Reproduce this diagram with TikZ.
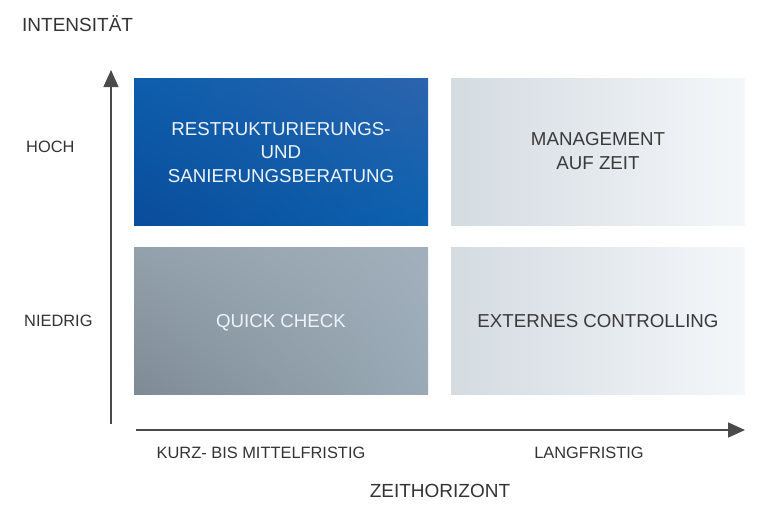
\documentclass[tikz,border=0pt]{standalone}
\usepackage{fontspec}
\setmainfont{Liberation Sans}
\usetikzlibrary{arrows.meta,shadings}
\definecolor{labeltext}{HTML}{333333}
\definecolor{boxdark}{HTML}{3A3A3A}
\definecolor{boxlight}{HTML}{EEF3F8}
\definecolor{axisgray}{HTML}{4A4A4A}
\definecolor{bUL}{RGB}{12,94,172}
\definecolor{bUR}{RGB}{45,99,173}
\definecolor{bLL}{RGB}{10,76,155}
\definecolor{bLR}{RGB}{10,98,175}
\definecolor{gUL}{RGB}{147,161,171}
\definecolor{gUR}{RGB}{161,176,188}
\definecolor{gLL}{RGB}{126,139,149}
\definecolor{gLR}{RGB}{153,170,182}
\definecolor{lL}{RGB}{212,219,225}
\definecolor{lR}{RGB}{244,247,250}
\newcommand{\lowerby}[2]{\raisebox{-#1}[\height][\depth]{#2}}
\begin{document}
\begin{tikzpicture}[x=1pt,y=-1pt,
  quad/.style={rectangle, inner sep=0pt, minimum width=294pt, minimum height=147pt, align=center, font=\fontsize{18.7}{23.5}\selectfont},
  singleline/.style={text depth=0pt},
  bluequad/.style={quad, text=boxlight, upper left=bUL, upper right=bUR, lower left=bLL, lower right=bLR},
  grayquad/.style={quad, text=boxlight, upper left=gUL, upper right=gUR, lower left=gLL, lower right=gLR},
  lightquad/.style={quad, text=boxdark, left color=lL, right color=lR},
  axislabel/.style={text=labeltext, inner sep=0pt, font=\fontsize{16.4}{19}\selectfont},
  axistitle/.style={text=labeltext, inner sep=0pt, font=\fontsize{19}{22}\selectfont},
  axisline/.style={draw=axisgray, line width=1.5pt, -{Triangle[length=17pt,width=15pt]}}
]
\useasboundingbox (0,0) rectangle (768,512);

\node[bluequad]  (rs) at (281,151.5) {\lowerby{2.5pt}{\begin{tabular}{@{}c@{}}RESTRUKTURIERUNGS-\\UND\\SANIERUNGSBERATUNG\end{tabular}}};
\node[lightquad] (mz) at (598,151.5) {\lowerby{1.5pt}{\begin{tabular}{@{}c@{}}MANAGEMENT\\AUF ZEIT\end{tabular}}};
\node[grayquad, singleline]  (qc) at (281,321) {QUICK CHECK};
\node[lightquad, singleline] (ec) at (598,321) {EXTERNES CONTROLLING};

\coordinate (vstart) at (111,424);
\coordinate (vend) at (111,70);
\coordinate (hstart) at (136,430);
\coordinate (hend) at (745,430);
\draw[axisline] (vstart) -- (vend);
\draw[axisline] (hstart) -- (hend);

\node[axistitle, anchor=west] (int) at (22,24) {INTENSITÄT};
\node[axislabel, anchor=west] (hoch) at (26,147) {HOCH};
\node[axislabel, anchor=west] (nied) at (24,321) {NIEDRIG};
\node[axislabel] (kurz) at (261,453) {KURZ- BIS MITTELFRISTIG};
\node[axislabel] (lang) at (589,453) {LANGFRISTIG};
\node[axistitle] (zeit) at (440,491) {ZEITHORIZONT};
\end{tikzpicture}
\end{document}
